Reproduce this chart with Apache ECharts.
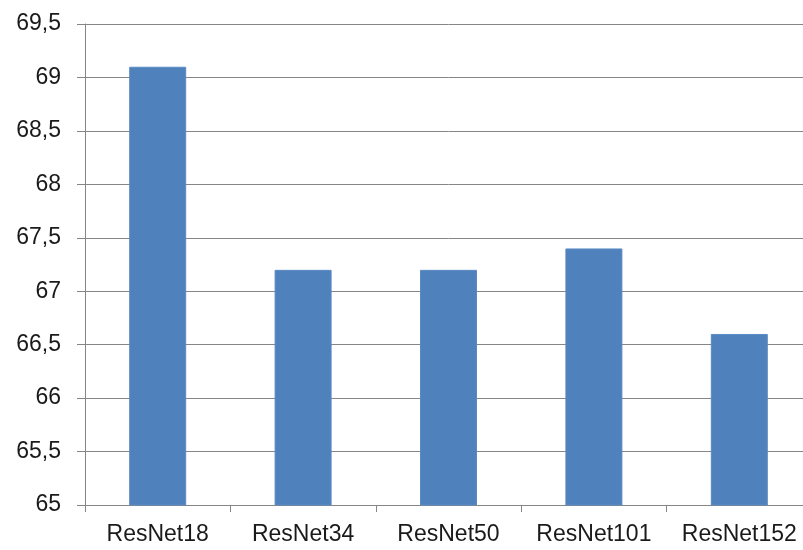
<!DOCTYPE html>
<html>
<head>
<meta charset="utf-8">
<script src="https://cdn.jsdelivr.net/npm/echarts@6/dist/echarts.min.js"></script>
<style>
  html, body { margin: 0; padding: 0; background: #ffffff; overflow: hidden; width: 803px; height: 550px; }
  /* the plot area continues slightly past the visible right edge */
  #chart { width: 812px; height: 550px; }
</style>
</head>
<body>
<div id="chart"></div>
<script>
// Accuracy per ResNet depth
const categories = ['ResNet18', 'ResNet34', 'ResNet50', 'ResNet101', 'ResNet152'];
const accuracy = [69.1, 67.2, 67.2, 67.4, 66.6];

const gridGray = '#868686';
const labelFont = '"Liberation Sans", Arial, sans-serif';

const chart = echarts.init(document.getElementById('chart'), null, { renderer: 'canvas' });
chart.setOption({
  animation: false,
  backgroundColor: '#ffffff',
  grid: { left: 85, right: 0, top: 24, bottom: 45, containLabel: false },
  xAxis: {
    type: 'category',
    data: categories,
    boundaryGap: true,
    axisLine: { show: true, lineStyle: { color: gridGray, width: 1 } },
    axisTick: { show: true, length: 7, lineStyle: { color: gridGray, width: 1 } },
    axisLabel: {
      color: '#1a1a1a',
      fontFamily: labelFont,
      fontSize: 23,
      margin: 18,
      interval: 0
    },
    splitLine: { show: false }
  },
  yAxis: {
    type: 'value',
    min: 65,
    max: 69.5,
    interval: 0.5,
    axisLine: { show: true, lineStyle: { color: gridGray, width: 1 } },
    axisTick: { show: true, length: 8, lineStyle: { color: gridGray, width: 1 } },
    axisLabel: {
      color: '#1a1a1a',
      fontFamily: labelFont,
      fontSize: 23,
      margin: 24,
      formatter: v => String(Math.round(v * 10) / 10).replace('.', ',')
    },
    splitLine: { show: true, lineStyle: { color: gridGray, width: 1 } }
  },
  series: [{
    type: 'bar',
    data: accuracy,
    barWidth: 57,
    itemStyle: { color: '#4F81BD', borderColor: '#5a8ac4', borderWidth: 1 }
  }]
});
</script>
</body>
</html>
